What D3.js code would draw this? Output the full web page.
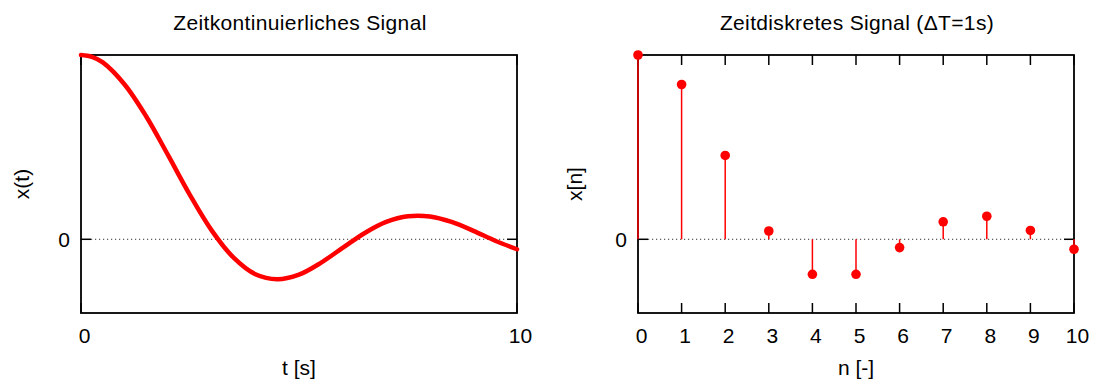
<!DOCTYPE html>
<html>
<head>
<meta charset="utf-8">
<script src="https://cdn.jsdelivr.net/npm/d3@7"></script>
<style>
  body { margin: 0; background: #fff; }
  text { font-family: "Liberation Sans", Arial, sans-serif; fill: #000; }
</style>
</head>
<body>
<svg id="chart" width="1093" height="383"></svg>
<script>
// continuous signal
const tSamples = [0, 0.25, 0.5, 1, 1.5, 2, 2.5, 3, 3.5, 4, 4.5, 5, 5.5, 6, 6.5, 7, 7.5, 8, 8.5, 9, 9.5, 10];
const xCont = [1.0, 0.99, 0.96, 0.84, 0.665, 0.455, 0.24, 0.047, -0.10, -0.19, -0.217, -0.192, -0.128, -0.047, 0.033, 0.094, 0.125, 0.124, 0.094, 0.046, -0.008, -0.054];

// sampled signal, right panel
const nSamples = [0, 1, 2, 3, 4, 5, 6, 7, 8, 9, 10];
const xDisc = [1.0, 0.84, 0.455, 0.045, -0.19, -0.19, -0.045, 0.095, 0.125, 0.048, -0.054];

const leftTicks = [0, 10];
const rightTicks = [0, 1, 2, 3, 4, 5, 6, 7, 8, 9, 10];

const titles = ["Zeitkontinuierliches Signal", "Zeitdiskretes Signal (\u0394T=1s)"];
const xLabels = ["t [s]", "n [-]"];
const yLabels = ["x(t)", "x[n]"];

const svg = d3.select("#chart");
const plotTop = 55, plotBottom = 313;
const fs = 21;

let y = d3.scaleLinear().domain([-0.4, 1]).range([plotBottom, plotTop]);

function panel(x0, x1, ticks, idx, yLabelX) {
  let x = d3.scaleLinear().domain([0, 10]).range([x0, x1]);
  let g = svg.append("g");

  // dotted zero line
  g.append("line")
    .attr("x1", x0 + 10).attr("x2", x1 - 10)
    .attr("y1", y(0)).attr("y2", y(0))
    .attr("stroke", "#333").attr("stroke-width", 1)
    .attr("stroke-dasharray", "1.2,2.8");

  // ticks inside the frame
  let tk = g.append("g").attr("stroke", "#000").attr("stroke-width", 1.5);
  ticks.forEach(t => {
    tk.append("line").attr("x1", x(t)).attr("x2", x(t)).attr("y1", plotBottom).attr("y2", plotBottom - 10);
    tk.append("line").attr("x1", x(t)).attr("x2", x(t)).attr("y1", plotTop).attr("y2", plotTop + 10);
  });
  tk.append("line").attr("x1", x0).attr("x2", x0 + 10).attr("y1", y(0)).attr("y2", y(0));
  tk.append("line").attr("x1", x1).attr("x2", x1 - 10).attr("y1", y(0)).attr("y2", y(0));

  // frame
  g.append("rect")
    .attr("x", x0).attr("y", plotTop)
    .attr("width", x1 - x0).attr("height", plotBottom - plotTop)
    .attr("fill", "none").attr("stroke", "#000").attr("stroke-width", 1.8);

  // tick labels
  ticks.forEach(t => {
    g.append("text").attr("x", x(t) + 3.5).attr("y", 343)
      .attr("text-anchor", "middle").attr("font-size", fs).text(t);
  });
  g.append("text").attr("x", x0 - 11).attr("y", y(0) + 8)
    .attr("text-anchor", "end").attr("font-size", fs).text("0");

  let cx = (x0 + x1) / 2;
  g.append("text").attr("x", cx + 1).attr("y", 30)
    .attr("text-anchor", "middle").attr("font-size", fs)
    .attr("letter-spacing", 0.35).text(titles[idx]);
  g.append("text").attr("x", cx).attr("y", 375)
    .attr("text-anchor", "middle").attr("font-size", fs).text(xLabels[idx]);
  g.append("text")
    .attr("transform", `translate(${yLabelX},${(plotTop + plotBottom) / 2}) rotate(-90)`)
    .attr("text-anchor", "middle").attr("font-size", fs).text(yLabels[idx]);

  return {x: x, g: g};
}

// left: continuous
let L = panel(81, 517, leftTicks, 0, 29);
let line = d3.line()
  .x((d, i) => L.x(tSamples[i]))
  .y(d => y(d))
  .curve(d3.curveCatmullRom);
L.g.append("path").datum(xCont)
  .attr("d", line)
  .attr("fill", "none").attr("stroke", "#ff0000")
  .attr("stroke-width", 4.5).attr("stroke-linecap", "round");

// right: discrete stems
let R = panel(638, 1074, rightTicks, 1, 582);
R.g.selectAll(".stem").data(nSamples).join("line")
  .attr("class", "stem")
  .attr("x1", d => R.x(d)).attr("x2", d => R.x(d))
  .attr("y1", y(0)).attr("y2", (d, i) => y(xDisc[i]))
  .attr("stroke", "#ff0000").attr("stroke-width", 1.5);
R.g.selectAll(".dot").data(nSamples).join("circle")
  .attr("class", "dot")
  .attr("cx", d => R.x(d)).attr("cy", (d, i) => y(xDisc[i]))
  .attr("r", 4.8).attr("fill", "#ff0000");
</script>
</body>
</html>
